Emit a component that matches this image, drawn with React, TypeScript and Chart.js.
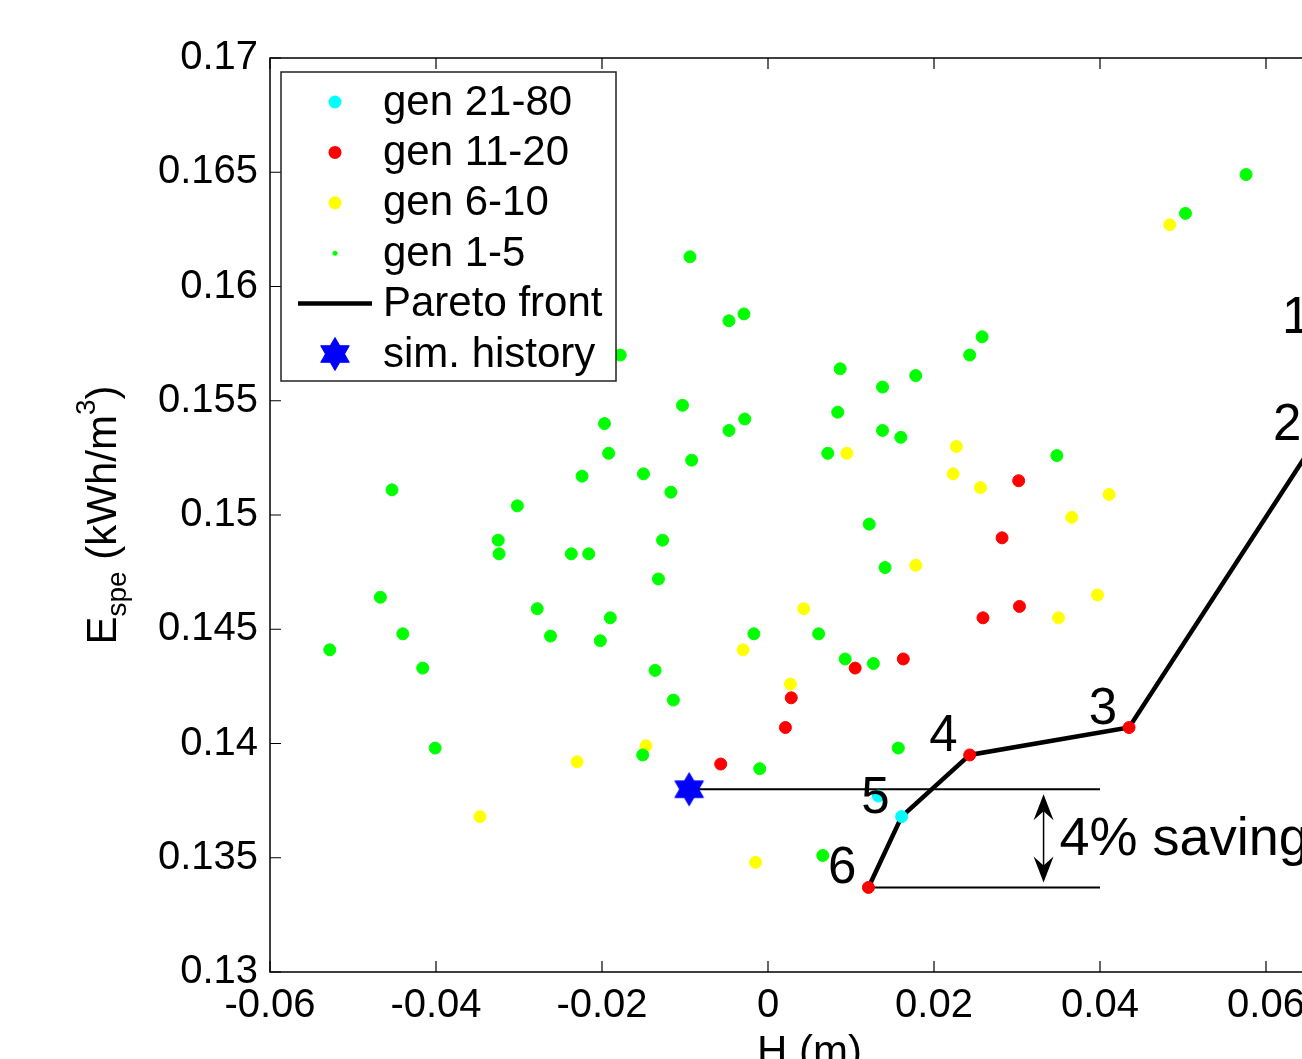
import React, { useEffect, useRef } from 'react';
import { Chart, registerables } from 'chart.js';

Chart.register(...registerables);

const FONT = "'Liberation Sans', Arial, Helvetica, sans-serif";

// ---- axes ----
const xRange = [-0.06, 0.07];
const yRange = [0.13, 0.17];
const xTickValues = [-0.06, -0.04, -0.02, 0, 0.02, 0.04, 0.06];
const xTickLabels = ['-0.06', '-0.04', '-0.02', '0', '0.02', '0.04', '0.06'];
const yTickValues = [0.13, 0.135, 0.14, 0.145, 0.15, 0.155, 0.16, 0.165, 0.17];
const yTickLabels = ['0.13', '0.135', '0.14', '0.145', '0.15', '0.155', '0.16', '0.165', '0.17'];
const xTitle = 'H (m)';

// ---- series ----
const gen1to5: [number, number][] = [
  [0.0576, 0.1649], [0.0503, 0.1632], [-0.0094, 0.1613], [-0.0029, 0.1588], [-0.0047, 0.1585],
  [0.0258, 0.1578], [0.0243, 0.157], [-0.0178, 0.157], [0.0087, 0.1564], [0.0138, 0.1556],
  [0.0178, 0.1561], [0.0084, 0.1545], [0.0138, 0.1537], [0.016, 0.1534], [-0.0103, 0.1548],
  [-0.0047, 0.1537], [-0.0028, 0.1542], [-0.0197, 0.154], [-0.0192, 0.1527], [-0.015, 0.1518],
  [-0.0092, 0.1524], [-0.0117, 0.151], [0.0072, 0.1527], [0.0348, 0.1526], [-0.0453, 0.1511],
  [-0.0302, 0.1504], [-0.0325, 0.1489], [-0.0324, 0.1483], [-0.0237, 0.1483], [-0.0216, 0.1483],
  [-0.0224, 0.1517], [-0.0467, 0.1464], [-0.0278, 0.1459], [-0.019, 0.1455], [-0.044, 0.1448],
  [-0.0262, 0.1447], [-0.0202, 0.1445], [-0.0528, 0.1441], [-0.0416, 0.1433], [-0.0401, 0.1398],
  [-0.0127, 0.1489], [-0.0132, 0.1472], [0.0122, 0.1496], [0.0141, 0.1477], [-0.0017, 0.1448],
  [0.0061, 0.1448], [-0.0136, 0.1432], [-0.0114, 0.1419], [0.0093, 0.1437], [0.0127, 0.1435],
  [-0.0151, 0.1395], [-0.001, 0.1389], [0.0157, 0.1398], [0.0066, 0.1351],
];
const gen6to10: [number, number][] = [
  [0.0484, 0.1627], [0.0227, 0.153], [0.0223, 0.1518], [0.0256, 0.1512], [0.0411, 0.1509],
  [0.0095, 0.1527], [0.0366, 0.1499], [0.0178, 0.1478], [0.0397, 0.1465], [0.035, 0.1455],
  [0.0043, 0.1459], [-0.003, 0.1441], [0.0027, 0.1426], [-0.0147, 0.1399], [-0.023, 0.1392],
  [-0.0347, 0.1368], [-0.0015, 0.1348],
];
const gen11to20: [number, number][] = [
  [0.0302, 0.1515], [0.0282, 0.149], [0.0303, 0.146], [0.0259, 0.1455], [0.0105, 0.1433],
  [0.0163, 0.1437], [0.0028, 0.142], [0.0021, 0.1407], [-0.0057, 0.1391], [0.0435, 0.1407],
  [0.0243, 0.1395], [0.0121, 0.1337],
];
const gen21to80: [number, number][] = [
  [0.0161, 0.1368], [0.0133, 0.1377],
];
const paretoFront: [number, number][] = [
  [0.0668, 0.1578], [0.0657, 0.1531], [0.0435, 0.1407], [0.0243, 0.1395], [0.0161, 0.1368], [0.0121, 0.1337],
];
const paretoLabels = ['1', '2', '3', '4', '5', '6'];
const simHistory: [number, number][] = [[-0.0095, 0.138]];
const savingLineEndX = 0.04;
const savingArrowX = 0.0332;
const savingText = '4% saving';

const legendLabels = ['gen 21-80', 'gen 11-20', 'gen 6-10', 'gen 1-5', 'Pareto front', 'sim. history'];

const CYAN = '#00ffff';
const RED = '#ff0000';
const YELLOW = '#ffff00';
const GREEN = '#00ff00';
const BLUE = '#0000ff';

function makeHexagram(): HTMLCanvasElement {
  const size = 36;
  const c = document.createElement('canvas');
  c.width = size;
  c.height = size;
  const g = c.getContext('2d')!;
  const r = 16.5;
  const cx = size / 2;
  const cy = size / 2;
  g.fillStyle = BLUE;
  g.strokeStyle = BLUE;
  g.lineWidth = 1;
  for (const start of [-90, 90]) {
    g.beginPath();
    for (let k = 0; k < 3; k++) {
      const a = ((start + k * 120) * Math.PI) / 180;
      const px = cx + r * Math.cos(a);
      const py = cy + r * Math.sin(a);
      if (k === 0) g.moveTo(px, py);
      else g.lineTo(px, py);
    }
    g.closePath();
    g.fill();
    g.stroke();
  }
  return c;
}

const toPts = (a: [number, number][]) => a.map(([x, y]) => ({ x, y }));

function dotDataset(label: string, data: [number, number][], color: string) {
  return {
    label,
    data: toPts(data),
    backgroundColor: color,
    borderColor: color,
    borderWidth: 1,
    pointRadius: 6,
    showLine: false,
  };
}

export default function App() {
  const ref = useRef<HTMLCanvasElement>(null);

  useEffect(() => {
    const star = makeHexagram();
    const sim = simHistory[0];
    const p6 = paretoFront[paretoFront.length - 1];

    const overlay = {
      id: 'overlay',
      afterDraw(chart: any) {
        const ctx = chart.ctx as CanvasRenderingContext2D;
        const ca = chart.chartArea;
        const xs = chart.scales.x;
        const ys = chart.scales.y;
        ctx.save();

        // frame and inward ticks
        ctx.strokeStyle = '#000';
        ctx.lineWidth = 1.5;
        ctx.strokeRect(ca.left, ca.top, ca.right - ca.left, ca.bottom - ca.top);
        ctx.lineWidth = 1.2;
        ctx.beginPath();
        for (const v of xTickValues) {
          const px = xs.getPixelForValue(v);
          ctx.moveTo(px, ca.bottom);
          ctx.lineTo(px, ca.bottom - 11);
          ctx.moveTo(px, ca.top);
          ctx.lineTo(px, ca.top + 11);
        }
        for (const v of yTickValues) {
          const py = ys.getPixelForValue(v);
          ctx.moveTo(ca.left, py);
          ctx.lineTo(ca.left + 11, py);
          ctx.moveTo(ca.right, py);
          ctx.lineTo(ca.right - 11, py);
        }
        ctx.stroke();

        // saving arrow
        const ax = xs.getPixelForValue(savingArrowX);
        const yTop = ys.getPixelForValue(sim[1]) + 5;
        const yBot = ys.getPixelForValue(p6[1]) - 5;
        ctx.strokeStyle = '#000';
        ctx.fillStyle = '#000';
        ctx.lineWidth = 1.5;
        ctx.beginPath();
        ctx.moveTo(ax, yTop + 10);
        ctx.lineTo(ax, yBot - 10);
        ctx.stroke();
        const head = (tipY: number, dir: number) => {
          ctx.beginPath();
          ctx.moveTo(ax, tipY);
          ctx.lineTo(ax - 10, tipY + dir * 26);
          ctx.lineTo(ax, tipY + dir * 17);
          ctx.lineTo(ax + 10, tipY + dir * 26);
          ctx.closePath();
          ctx.fill();
        };
        head(yTop, 1);
        head(yBot, -1);
        ctx.font = `54px ${FONT}`;
        ctx.textAlign = 'left';
        ctx.textBaseline = 'alphabetic';
        ctx.fillText(savingText, ax + 16, (yTop + yBot) / 2 + 17);

        // pareto labels
        ctx.font = `51px ${FONT}`;
        ctx.textAlign = 'right';
        paretoFront.forEach(([x, y], i) => {
          const px = xs.getPixelForValue(x);
          const py = ys.getPixelForValue(y);
          ctx.fillText(paretoLabels[i], px - 12, py - 4);
        });

        // x title
        ctx.font = `42px ${FONT}`;
        ctx.textAlign = 'center';
        ctx.fillText(xTitle, (ca.left + ca.right) / 2, ca.bottom + 93);

        // y title (rotated, with sub/superscript)
        const big = `42px ${FONT}`;
        const small = `28px ${FONT}`;
        const parts: [string, string, number][] = [
          ['E', big, 0],
          ['spe', small, 10],
          [' (kWh/m', big, 0],
          ['3', small, -21],
          [')', big, 0],
        ];
        let total = 0;
        for (const [t, f] of parts) {
          ctx.font = f;
          total += ctx.measureText(t).width;
        }
        ctx.save();
        ctx.translate(116, (ca.top + ca.bottom) / 2 + total / 2);
        ctx.rotate(-Math.PI / 2);
        ctx.textAlign = 'left';
        let cx = 0;
        for (const [t, f, dy] of parts) {
          ctx.font = f;
          ctx.fillText(t, cx, dy);
          cx += ctx.measureText(t).width;
        }
        ctx.restore();

        // legend
        const lx = ca.left + 11;
        const ly = ca.top + 14;
        const lw = 335;
        const lh = 309;
        ctx.fillStyle = '#fff';
        ctx.fillRect(lx, ly, lw, lh);
        ctx.strokeStyle = '#222';
        ctx.lineWidth = 1.5;
        ctx.strokeRect(lx, ly, lw, lh);
        const colors = [CYAN, RED, YELLOW, GREEN];
        legendLabels.forEach((lab, i) => {
          const ry = ly + 30 + i * 50.4;
          const mx = lx + 54;
          if (i < 4) {
            ctx.fillStyle = colors[i];
            ctx.beginPath();
            ctx.arc(mx, ry, i === 3 ? 2.5 : 6.5, 0, Math.PI * 2);
            ctx.fill();
          } else if (i === 4) {
            ctx.strokeStyle = '#000';
            ctx.lineWidth = 4.5;
            ctx.beginPath();
            ctx.moveTo(lx + 17, ry);
            ctx.lineTo(lx + 91, ry);
            ctx.stroke();
          } else {
            ctx.drawImage(star, mx - star.width / 2, ry - star.height / 2);
          }
          ctx.fillStyle = '#000';
          ctx.font = `42px ${FONT}`;
          ctx.textAlign = 'left';
          ctx.textBaseline = 'middle';
          ctx.fillText(lab, lx + 102, ry + 1);
        });

        ctx.restore();
      },
    };

    const chart = new Chart(ref.current!, {
      type: 'scatter',
      data: {
        datasets: [
          {
            label: 'sim. history',
            data: toPts(simHistory),
            pointStyle: star as any,
            pointRadius: 17,
            backgroundColor: BLUE,
            borderColor: BLUE,
          },
          dotDataset('gen 21-80', gen21to80, CYAN),
          dotDataset('gen 11-20', gen11to20, RED),
          dotDataset('gen 1-5', gen1to5, GREEN),
          dotDataset('gen 6-10', gen6to10, YELLOW),
          {
            label: 'Pareto front',
            data: toPts(paretoFront),
            showLine: true,
            borderColor: '#000',
            backgroundColor: '#000',
            borderWidth: 4.5,
            pointRadius: 0,
            tension: 0,
          },
          {
            label: 'reference level',
            data: [{ x: sim[0], y: sim[1] }, { x: savingLineEndX, y: sim[1] }],
            showLine: true,
            borderColor: '#000',
            borderWidth: 2,
            pointRadius: 0,
          },
          {
            label: 'optimum level',
            data: [{ x: p6[0], y: p6[1] }, { x: savingLineEndX, y: p6[1] }],
            showLine: true,
            borderColor: '#000',
            borderWidth: 2,
            pointRadius: 0,
          },
        ] as any,
      },
      options: {
        responsive: false,
        animation: false,
        devicePixelRatio: 1,
        events: [],
        layout: { padding: { left: 0, top: 58, right: 51, bottom: 0 } },
        plugins: { legend: { display: false }, tooltip: { enabled: false } },
        scales: {
          x: {
            type: 'linear',
            position: 'bottom',
            min: xRange[0],
            max: xRange[1],
            grid: { display: false, drawTicks: false },
            border: { display: false },
            afterBuildTicks: (s: any) => {
              s.ticks = xTickValues.map((v) => ({ value: v }));
            },
            afterFit: (s: any) => {
              s.height = 87;
            },
            ticks: {
              autoSkip: false,
              maxRotation: 0,
              padding: 10,
              color: '#000',
              font: { family: FONT, size: 40 },
              callback: (_v: any, i: number) => xTickLabels[i],
            },
          },
          y: {
            type: 'linear',
            position: 'left',
            min: yRange[0],
            max: yRange[1],
            grid: { display: false, drawTicks: false },
            border: { display: false },
            afterBuildTicks: (s: any) => {
              s.ticks = yTickValues.map((v) => ({ value: v }));
            },
            afterFit: (s: any) => {
              s.width = 270;
            },
            ticks: {
              autoSkip: false,
              padding: 12,
              color: '#000',
              font: { family: FONT, size: 40 },
              callback: (_v: any, i: number) => yTickLabels[i],
            },
          },
        },
      } as any,
      plugins: [overlay],
    });
    return () => chart.destroy();
  }, []);

  return (
    <div
      style={{
        position: 'fixed',
        left: 0,
        top: 0,
        width: 1302,
        height: 1059,
        overflow: 'hidden',
        background: '#fff',
      }}
    >
      <canvas ref={ref} width={1400} height={1059} style={{ display: 'block', width: 1400, height: 1059 }} />
    </div>
  );
}
